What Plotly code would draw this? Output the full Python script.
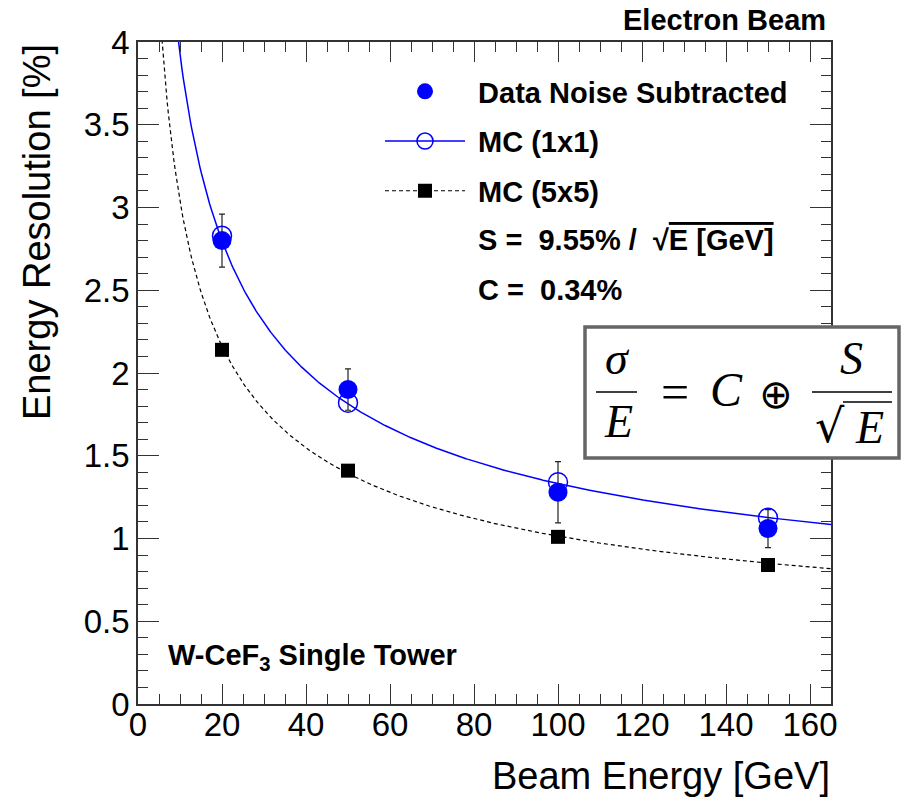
import numpy as np
import plotly.graph_objects as go

# ---------------- data ----------------
beam_energy = [20, 50, 100, 150]                 # GeV
data_resolution = [2.80, 1.90, 1.28, 1.06]       # %  (Data Noise Subtracted)
data_error = [0.16, 0.125, 0.185, 0.115]
mc1x1_resolution = [2.83, 1.82, 1.34, 1.125]     # %  MC (1x1)
mc5x5_resolution = [2.14, 1.41, 1.01, 0.84]      # %  MC (5x5)

# fit parameters sigma/E = C (+) S/sqrt(E)
fit5x5_S, fit5x5_C = 9.55, 0.34                  # quoted on the chart
fit1x1_S, fit1x1_C = 12.3, 0.51

legend_names = ["Data Noise Subtracted", "MC (1x1)", "MC (5x5)"]
x_title = "Beam Energy [GeV]"
y_title = "Energy Resolution [%]"

# ---------------- geometry helpers (layout only) ----------------
W, H = 901, 800
L, R, T, B = 138, 70, 42, 96
PW, PH = W - L - R, H - T - B


def px(x):
    return (x - L) / PW


def py(y):
    return (H - B - y) / PH


def fit_curve(S, C, E):
    return np.sqrt(C ** 2 + S ** 2 / E)


curve_E = np.linspace(2.0, 165.0, 500)

BLUE = "#0000ff"
FONT = "Liberation Sans"
SERIF = "Liberation Serif"
NB = "\u00a0"

fig = go.Figure()

# fit curves
fig.add_trace(go.Scatter(x=curve_E, y=fit_curve(fit5x5_S, fit5x5_C, curve_E), mode="lines",
                         line=dict(color="black", width=1.2, dash="4px,3px"),
                         showlegend=False, hoverinfo="skip"))
fig.add_trace(go.Scatter(x=curve_E, y=fit_curve(fit1x1_S, fit1x1_C, curve_E), mode="lines",
                         line=dict(color=BLUE, width=1.5),
                         showlegend=False, hoverinfo="skip"))

# markers
fig.add_trace(go.Scatter(x=beam_energy, y=mc5x5_resolution, mode="markers",
                         marker=dict(symbol="square", size=14, color="black"),
                         showlegend=False))
fig.add_trace(go.Scatter(x=beam_energy, y=data_resolution, mode="markers",
                         marker=dict(symbol="circle", size=19, color=BLUE),
                         error_y=dict(type="data", array=data_error, color="#222222",
                                      thickness=1.2, width=3),
                         showlegend=False))
fig.add_trace(go.Scatter(x=beam_energy, y=mc1x1_resolution, mode="markers",
                         marker=dict(symbol="circle-open", size=19, color=BLUE,
                                     line=dict(width=1.5, color=BLUE)),
                         showlegend=False))

# legend-only entries
fig.add_trace(go.Scatter(x=[None], y=[None], mode="markers", name=NB + legend_names[0],
                         marker=dict(symbol="circle", size=19, color=BLUE), legendgroup="a"))
fig.add_trace(go.Scatter(x=[None], y=[None], mode="lines+markers", name=NB + legend_names[1],
                         marker=dict(symbol="circle-open", size=19, color=BLUE,
                                     line=dict(width=1.5, color=BLUE)),
                         line=dict(color=BLUE, width=1.5), legendgroup="b"))
fig.add_trace(go.Scatter(x=[None], y=[None], mode="lines+markers", name=NB + legend_names[2],
                         marker=dict(symbol="square", size=14, color="black"),
                         line=dict(color="black", width=1.2, dash="4px,3px"), legendgroup="c"))

axis_common = dict(
    showline=True, linecolor="#333333", linewidth=1.5, mirror="allticks",
    ticks="inside", tickcolor="#333333", tickwidth=1,
    showgrid=False, zeroline=False,
    tickfont=dict(family=FONT, size=33, color="black"),
)
fig.update_xaxes(range=[0, 165], tick0=0, dtick=20, ticklen=20, ticklabelstandoff=-9,
                 minor=dict(dtick=5, ticklen=10, ticks="inside", tickcolor="#333333", tickwidth=1),
                 **axis_common)
fig.update_yaxes(range=[0, 4], tick0=0, dtick=0.5, ticklen=21,
                 minor=dict(dtick=0.1, ticklen=10, ticks="inside", tickcolor="#333333", tickwidth=1),
                 **axis_common)

annotations = []


def ann(text, x, y, size, family=FONT, xanchor="center", yanchor="middle", weight="normal",
        style="normal", angle=0, color="black"):
    annotations.append(dict(text=text, x=px(x), y=py(y), xref="paper", yref="paper",
                            xanchor=xanchor, yanchor=yanchor, showarrow=False, textangle=angle,
                            font=dict(family=family, size=size, color=color, weight=weight,
                                      style=style)))


# titles
ann(x_title, 832, 776, 38, xanchor="right")
annotations.append(dict(text=y_title, x=px(37), y=1.0, xref="paper", yref="paper",
                        xanchor="center", yanchor="top", showarrow=False, textangle=-90,
                        font=dict(family=FONT, size=38, color="black")))
ann("Electron Beam", 828, 20, 29, xanchor="right", weight="bold")
ann("W-CeF<sub>3</sub> Single Tower", 166, 657, 29, xanchor="left", weight="bold")

# fit result text
ann(f"S ={NB}{NB}{fit5x5_S:.2f}% /{NB}{NB}√<span style='text-decoration:overline'>E [GeV]</span>",
    476, 240, 29, xanchor="left", weight="bold")
ann(f"C ={NB}{NB}{fit5x5_C:.2f}%", 476, 290, 29, xanchor="left", weight="bold")

# formula box
shapes = [
    dict(type="rect", xref="paper", yref="paper", x0=px(585), x1=px(899), y0=py(458), y1=py(327),
         line=dict(color="#666666", width=3.5), fillcolor="white", layer="above"),
    dict(type="line", xref="paper", yref="paper", x0=px(596), x1=px(637), y0=py(392), y1=py(392),
         line=dict(color="black", width=1.5), layer="above"),
    dict(type="line", xref="paper", yref="paper", x0=px(812), x1=px(892), y0=py(392), y1=py(392),
         line=dict(color="black", width=1.5), layer="above"),
    dict(type="line", xref="paper", yref="paper", x0=px(843), x1=px(892), y0=py(402), y1=py(402),
         line=dict(color="black", width=1.5), layer="above"),
]
ann("σ", 617, 358, 46, family=SERIF, style="italic")
ann("E", 618, 421, 46, family=SERIF, style="italic")
ann("=", 675, 392, 50, family=SERIF)
ann("C", 726, 389, 48, family=SERIF, style="italic")
ann("⊕", 776, 394, 40, family="DejaVu Sans")
ann("S", 851, 359, 46, family=SERIF, style="italic")
ann("√", 830, 426, 46, family="DejaVu Serif")
ann("E", 869, 428, 46, family=SERIF, style="italic")

fig.update_layout(
    width=W, height=H,
    margin=dict(l=L, r=R, t=T, b=B, pad=0),
    plot_bgcolor="white", paper_bgcolor="white",
    font=dict(family=FONT, color="black"),
    showlegend=True,
    legend=dict(x=px(380), y=py(66), xanchor="left", yanchor="top",
                bgcolor="rgba(0,0,0,0)", borderwidth=0, itemwidth=80,
                tracegroupgap=9, itemsizing="trace",
                font=dict(family=FONT, size=29, weight="bold", color="black")),
    annotations=annotations,
    shapes=shapes,
)

fig.write_html("out.html")
